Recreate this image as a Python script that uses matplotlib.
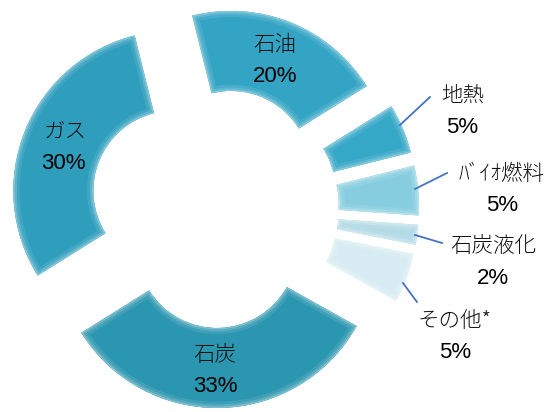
import matplotlib
matplotlib.use("Agg")
import matplotlib.pyplot as plt
from matplotlib.patches import Wedge
from matplotlib.colors import to_rgb

# Energy source shares (%)
labels = ["石油", "地熱", "ﾊﾞｲｵ燃料", "石炭液化", "その他*", "石炭", "ガス"]
values = [20, 5, 5, 2, 5, 33, 30]
colors = ["#33a4c4", "#36a8c7", "#86cde0", "#b3dbe6", "#d6ecf2", "#2b96b0", "#2f9ebd"]
explode = [40, 43, 43, 43, 43, 40, 46]

W, H = 558, 412
fig = plt.figure(figsize=(W / 100, H / 100), dpi=100)
ax = fig.add_axes([0, 0, 1, 1])

center = (216, H - 208)
radius = 160
ring = 80

wedges, _ = ax.pie(
    values, colors=colors, explode=explode, startangle=104,
    counterclock=False, center=center, radius=radius,
    wedgeprops=dict(width=ring, edgecolor="none", linewidth=0),
)


def lighten(c, f):
    r, g, b = to_rgb(c)
    return (r + (1 - r) * f, g + (1 - g) * f, b + (1 - b) * f)


# soft bevel: light rims stroked along each wedge outline, clipped to the wedge
for w, c in zip(wedges, colors):
    for lw, f, a in [(9, 0.15, 0.6), (5, 0.28, 0.7), (2, 0.45, 0.8)]:
        rim = Wedge(w.center, w.r, w.theta1, w.theta2, width=w.width,
                    fill=False, edgecolor=lighten(c, f), linewidth=lw, alpha=a)
        ax.add_patch(rim)
        rim.set_clip_path(w)

ax.set_xlim(0, W)
ax.set_ylim(0, H)
ax.set_aspect("equal")
ax.axis("off")

jp = ["Noto Sans CJK JP"]
num = ["Liberation Sans", "Noto Sans CJK JP"]

# label positions (name and percentage), in pixel space from the top-left
label_pos = {
    "石油": (275, 45, 275, 76),
    "ガス": (65, 132, 63, 163),
    "石炭": (215, 355, 215, 387),
    "地熱": (463, 96, 462, 127),
    "ﾊﾞｲｵ燃料": (502, 174, 502, 205),
    "石炭液化": (493, 246, 493, 278),
    "その他*": (455, 321, 455, 353),
}
for lab, v in zip(labels, values):
    x1, y1, x2, y2 = label_pos[lab]
    ax.text(x1, H - y1, lab, ha="center", va="center", fontsize=15.5,
            family=jp, fontweight="light", color="#111111")
    ax.text(x2, H - y2, f"{v}%", ha="center", va="center", fontsize=16,
            family=num, color="#000000")

# leader lines for the small slices
leaders = {
    "地熱": ((400, 125), (430, 97)),
    "ﾊﾞｲｵ燃料": ((415, 189), (447, 173)),
    "石炭液化": ((415, 235), (442, 243)),
    "その他*": ((403, 283), (417, 302)),
}
for (xa, ya), (xb, yb) in leaders.values():
    ax.plot([xa, xb], [H - ya, H - yb], color="#4472c4", lw=1.3)

fig.savefig("out.png", dpi=100)
